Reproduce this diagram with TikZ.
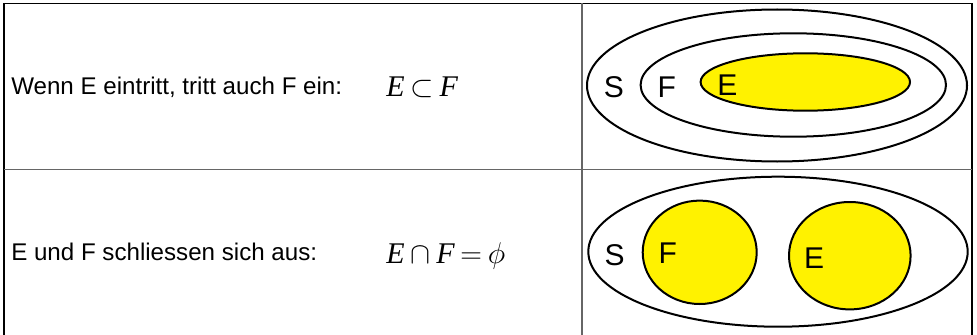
\RequirePackage{fix-cm}
\documentclass[tikz,border=0pt]{standalone}
\usepackage{fontspec}
\setmainfont{Liberation Sans}
\newfontfamily\tms{Liberation Serif}
\newcommand{\gp}{\mkern3.5mu}
\begin{document}
\begin{tikzpicture}[x=0.75pt,y=-0.75pt,
  rowtext/.style={anchor=base west,inner sep=0pt,font=\fontsize{18.1}{21}\selectfont},
  mathtext/.style={anchor=base west,inner sep=0pt,font=\fontsize{22.5}{26}\selectfont},
  setlabel/.style={inner sep=0pt,font=\fontsize{22.5}{26}\selectfont},
  setline/.style={draw=black,line width=1.5pt},
  eventset/.style={setline,fill=yellow},
  outerline/.style={draw=black,line width=0.9pt},
  innerline/.style={draw=black!60,line width=0.9pt}]
\useasboundingbox (0,0) rectangle (977,335);
% table
\draw[outerline] (4,340) -- (4,3.5) -- (972,3.5) -- (972,340);
\draw[innerline] (582,3.5) -- (582,340);
\draw[innerline] (4,169.5) -- (972,169.5);
% row 1 text
\node[rowtext] (t1) at (11,94.5) {Wenn E eintritt, tritt auch F ein:};
\node[mathtext] (m1) at (386,96.5) {{\tms\itshape E}$\gp\subset\gp${\tms\itshape F}};
% row 1 sets
\draw[setline] (777,85.5) ellipse [x radius=190, y radius=76];
\draw[setline] (793.3,85) ellipse [x radius=152.7, y radius=51.7];
\draw[eventset] (805.3,82) ellipse [x radius=104.7, y radius=28.7];
\node[setlabel] (s1) at (613.8,87.5) {S};
\node[setlabel] (f1) at (666.7,87.5) {F};
\node[setlabel] (e1) at (727.3,85) {E};
% row 2 text
\node[rowtext] (t2) at (11,260.5) {E und F schliessen sich aus:};
\node[mathtext] (m2) at (386,263) {{\tms\itshape E}$\gp\cap\gp${\tms\itshape F}$\gp=\gp$$\phi$};
% row 2 sets
\draw[setline] (778,251.7) ellipse [x radius=189.7, y radius=75];
\draw[eventset] (699.7,252.3) ellipse [x radius=57, y radius=51.7];
\draw[eventset] (849.8,255.7) ellipse [x radius=60.8, y radius=53.7];
\node[setlabel] (s2) at (614.7,255) {S};
\node[setlabel] (f2) at (667.7,253.3) {F};
\node[setlabel] (e2) at (814.2,257.7) {E};
\end{tikzpicture}
\end{document}
